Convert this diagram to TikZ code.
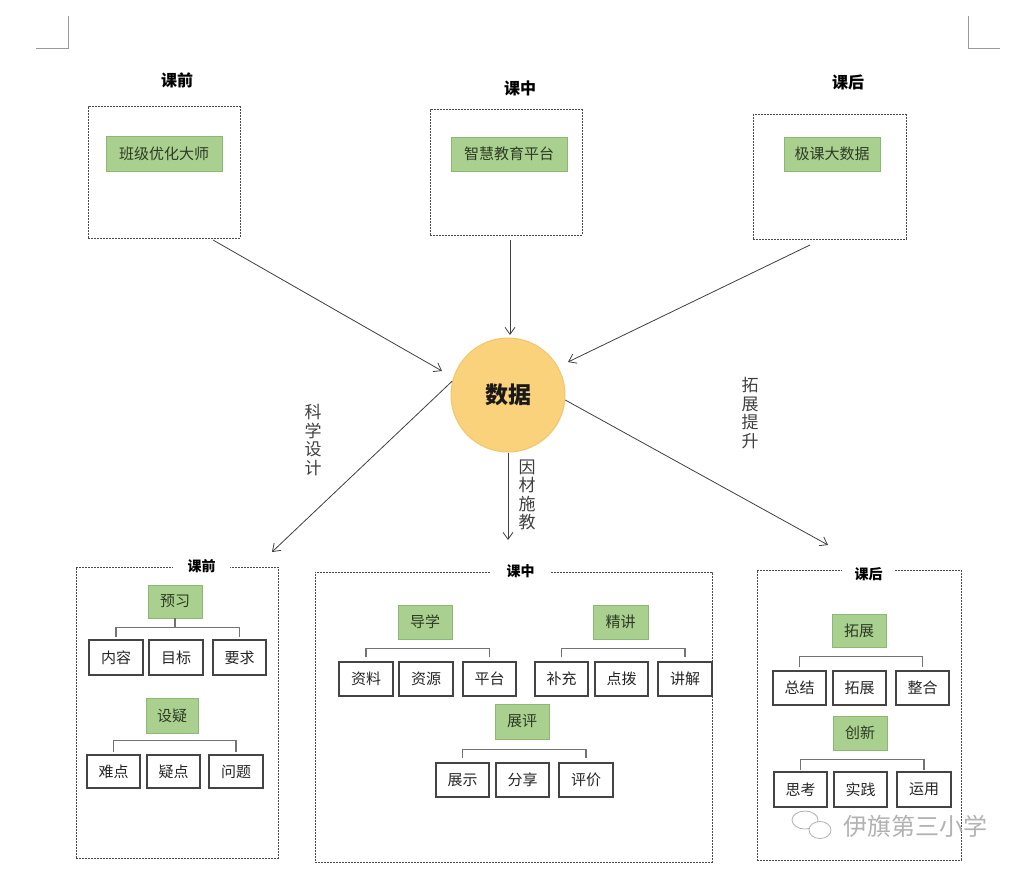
\documentclass[tikz,border=0pt]{standalone}
\usepackage{fontspec}
\setmainfont{Noto Sans CJK SC}
\usetikzlibrary{arrows.meta}
\definecolor{grnfill}{HTML}{A9D08E}
\definecolor{gborder}{HTML}{8CB874}
\definecolor{gtext}{HTML}{2E3A26}
\definecolor{dgray}{HTML}{4A4A4A}
\definecolor{bgray}{HTML}{444444}
\definecolor{circfill}{HTML}{FAD27C}
\definecolor{circdraw}{HTML}{F2C66A}
\begin{document}
\begin{tikzpicture}[x=1pt,y=-1pt,
  dbox/.style={draw=dgray, dash pattern=on 2pt off 1pt, line width=1pt, inner sep=0pt},
  gbox/.style={draw=gborder, fill=grnfill, line width=0.6pt, inner sep=0pt, font=\fontsize{15}{17}\selectfont, text=gtext},
  wbox/.style={draw=bgray, fill=white, line width=1.1pt, minimum width=54pt, minimum height=34pt, inner sep=0pt, font=\fontsize{15}{17}\selectfont, text=black!85},
  ttl/.style={font=\fontsize{16}{18}\selectfont\bfseries, text=black},
  btitle/.style={fill=white, inner xsep=0pt, inner ysep=2pt, font=\fontsize{14}{16}\selectfont\bfseries, text=black},
  vlab/.style={align=center, font=\fontsize{17}{18.5}\selectfont, text=black!75},
  arr/.style={draw=black!75, line width=0.8pt, -{Straight Barb[length=7pt,width=10pt]}},
  brk/.style={draw=black!55, line width=1.4pt},
  corner/.style={draw=black!40, line width=0.8pt}
]
\useasboundingbox[fill=white] (0,0) rectangle (1024,872);

% corner marks
\coordinate (ca) at (68,16);
\coordinate (cb) at (36,48);
\draw[corner] (ca) -- (ca |- cb) -- (cb);
\coordinate (cc) at (968,16);
\coordinate (cd) at (1000,48);
\draw[corner] (cc) -- (cc |- cd) -- (cd);

% top labels
\node[ttl] (tl1) at (177,80) {课前};
\node[ttl] (tl2) at (520,88) {课中};
\node[ttl] (tl3) at (848,82) {课后};

% top boxes
\node[dbox, minimum width=152pt, minimum height=131pt] (box1) at (164,172.5) {};
\node[gbox, minimum width=116pt, minimum height=35pt] (g1) at (164,153.5) {班级优化大师};
\node[dbox, minimum width=152pt, minimum height=125pt] (box2) at (506,172.5) {};
\node[gbox, minimum width=116pt, minimum height=34pt] (g2) at (509,154) {智慧教育平台};
\node[dbox, minimum width=153pt, minimum height=124pt] (box3) at (829.5,177) {};
\node[gbox, minimum width=96pt, minimum height=34pt] (g3) at (832,154) {极课大数据};

% center circle
\node[circle, fill=circfill, draw=circdraw, line width=1pt, minimum size=114pt, inner sep=0pt,
      font=\fontsize{23}{25}\selectfont\bfseries, text=black!90] (data) at (508,395) {数据};

% incoming arrows
\coordinate (s1) at (213,240);
\coordinate (t1) at (442,371);
\coordinate (s2) at (510,240);
\coordinate (t2) at (510,335);
\coordinate (s3) at (810,245);
\coordinate (t3) at (568,362);
\draw[arr] (s1) -- (t1);
\draw[arr] (s2) -- (t2);
\draw[arr] (s3) -- (t3);

% outgoing arrows
\coordinate (e1) at (272,552);
\coordinate (e2) at (508,540);
\coordinate (e3) at (828,545);
\draw[arr] (data.166) -- (e1);
\draw[arr] (data.270) -- (e2);
\draw[arr] (data.355) -- (e3);

% vertical labels
\node[vlab] (v1) at (313,440) {科\\学\\设\\计};
\node[vlab] (v2) at (527,495) {因\\材\\施\\教};
\node[vlab] (v3) at (750,413) {拓\\展\\提\\升};

% ===== bottom left: 课前 =====
\node[dbox, minimum width=202pt, minimum height=291pt] (bl) at (177,712.5) {};
\node[btitle, minimum width=57pt] (blt) at (201.5,566) {课前};
\node[gbox, minimum width=54pt, minimum height=33pt] (ya) at (175,601.5) {预习};
\node[wbox, minimum height=35pt] (ya1) at (116,657.5) {内容};
\node[wbox, minimum height=35pt] (ya2) at (176,657.5) {目标};
\node[wbox, minimum width=53pt, minimum height=35pt] (ya3) at (239.5,657.5) {要求};
\draw[brk] ([yshift=2pt]ya1.north) -- ++(0,-10) -| ([yshift=2pt]ya3.north);
\draw[brk] (ya.south) -- ++(0,10);
\node[gbox, minimum width=52pt, minimum height=35pt] (yb) at (172,715.5) {设疑};
\node[wbox, minimum width=53pt, minimum height=33pt] (yb1) at (113.5,771.5) {难点};
\node[wbox, minimum width=53pt, minimum height=33pt] (yb2) at (173.5,771.5) {疑点};
\node[wbox, minimum width=54pt, minimum height=33pt] (yb3) at (236,771.5) {问题};
\draw[brk] ([yshift=2pt]yb1.north) -- ++(0,-12) -| ([yshift=2pt]yb3.north);

% ===== bottom middle: 课中 =====
\node[dbox, minimum width=397pt, minimum height=290pt] (bm) at (513.5,717) {};
\node[btitle, minimum width=59pt] (bmt) at (520.5,571) {课中};
\node[gbox, minimum width=54pt, minimum height=34pt] (ma) at (425,622) {导学};
\node[wbox] (ma1) at (366,679) {资料};
\node[wbox] (ma2) at (426,679) {资源};
\node[wbox, minimum width=53pt] (ma3) at (489.5,679) {平台};
\draw[brk] ([yshift=4pt]ma1.north) -- ++(0,-9) -| ([yshift=4pt]ma3.north);
\node[gbox, minimum width=55pt, minimum height=34pt] (mb) at (620.5,622) {精讲};
\node[wbox, minimum width=53pt] (mb1) at (561.5,679) {补充};
\node[wbox, minimum width=53pt] (mb2) at (621.5,679) {点拨};
\node[wbox] (mb3) at (685,679) {讲解};
\draw[brk] ([yshift=4pt]mb1.north) -- ++(0,-9) -| ([yshift=4pt]mb3.north);
\node[gbox, minimum width=54pt, minimum height=35pt] (mc) at (522,721.5) {展评};
\node[wbox, minimum width=53pt] (mc1) at (462.5,780) {展示};
\node[wbox, minimum width=53pt] (mc2) at (522.5,780) {分享};
\node[wbox] (mc3) at (586,780) {评价};
\draw[brk] ([yshift=4pt]mc1.north) -- ++(0,-9) -| ([yshift=4pt]mc3.north);

% ===== bottom right: 课后 =====
\node[dbox, minimum width=204pt, minimum height=290pt] (br) at (859,715) {};
\node[btitle, minimum width=53pt] (brt) at (868.5,574) {课后};
\node[gbox, minimum width=54pt, minimum height=33pt] (ra) at (859,630.5) {拓展};
\node[wbox, minimum width=53pt] (ra1) at (799.5,688) {总结};
\node[wbox, minimum width=53pt] (ra2) at (859.5,688) {拓展};
\node[wbox, minimum width=53pt] (ra3) at (922.5,688) {整合};
\draw[brk] ([yshift=3pt]ra1.north) -- ++(0,-11) -| ([yshift=3pt]ra3.north);
\node[gbox, minimum width=54pt, minimum height=34pt] (rb) at (860,733) {创新};
\node[wbox, minimum width=53pt, minimum height=35pt] (rb1) at (800.5,789.5) {思考};
\node[wbox, minimum width=53pt, minimum height=35pt] (rb2) at (860.5,789.5) {实践};
\node[wbox, minimum width=54pt, minimum height=35pt] (rb3) at (924,789.5) {运用};
\draw[brk] ([yshift=1pt]rb1.north) -- ++(0,-11) -| ([yshift=1pt]rb3.north);

% watermark
\draw[black!30, line width=0.8pt] (805,820) ellipse (13 and 9);
\draw[black!30, line width=0.8pt, fill=white] (820,830) ellipse (11 and 8.5);
\node[text=black!30, font=\fontsize{24}{26}\selectfont] (wm) at (915,826) {伊旗第三小学};
\end{tikzpicture}
\end{document}
